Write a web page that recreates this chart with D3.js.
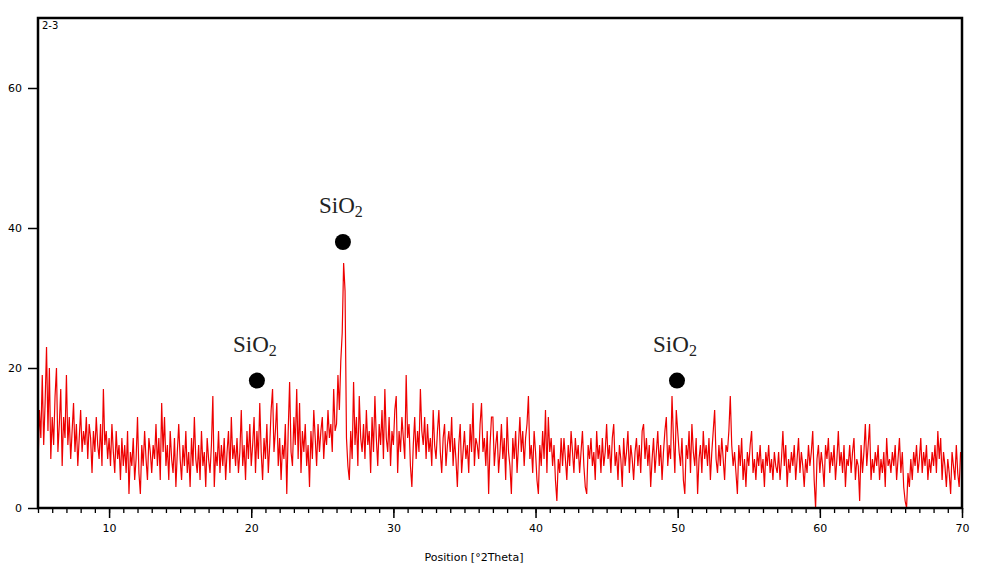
<!DOCTYPE html>
<html>
<head>
<meta charset="utf-8">
<script src="https://cdn.jsdelivr.net/npm/d3@7"></script>
<style>
  body { margin: 0; background: #fff; }
  svg { display: block; }
  .tick text { font-family: "DejaVu Sans", Verdana, sans-serif; font-size: 11px; fill: #000; }
</style>
</head>
<body>
<svg id="chart" width="985" height="569"></svg>
<script>
// scan settings, degrees 2Theta
const scanStart = 5;
const scanStep = 0.1;

// counts, 10 values per degree (5.0 ... 69.9) plus 70.0
const counts = [
  6, 14, 10, 19, 9, 15, 23, 11, 20, 7,
  13, 9, 16, 20, 8, 12, 17, 6, 13, 10,
  19, 9, 13, 7, 11, 15, 8, 12, 6, 10,
  14, 8, 11, 9, 13, 7, 12, 10, 5, 11,
  8, 13, 9, 7, 12, 6, 17, 9, 11, 7,
  10, 6, 12, 8, 5, 11, 7, 9, 4, 10,
  6, 9, 5, 11, 2, 8, 6, 10, 4, 7,
  13, 5, 2, 9, 6, 11, 7, 4, 10, 8,
  5, 9, 7, 12, 6, 10, 4, 15, 8, 13,
  6, 9, 4, 11, 7, 5, 10, 3, 8, 12,
  7, 4, 9, 6, 11, 5, 8, 3, 10, 6,
  13, 7, 5, 9, 4, 11, 6, 8, 3, 10,
  7, 5, 9, 16, 3, 8, 6, 11, 5, 9,
  6, 10, 4, 8, 11, 5, 13, 7, 9, 6,
  10, 5, 8, 14, 6, 9, 4, 11, 7, 12,
  6, 9, 13, 5, 11, 7, 15, 8, 4, 10,
  7, 12, 5, 9, 14, 17, 8, 11, 15, 6,
  10, 4, 9, 7, 12, 2, 11, 18, 8, 6,
  13, 9, 17, 7, 15, 5, 11, 8, 12, 6,
  9, 3, 11, 7, 14, 10, 6, 12, 8, 11,
  13, 7, 11, 9, 14, 10, 12, 8, 17, 11,
  12, 19, 14, 21, 25, 35, 31, 10, 6, 4,
  11, 7, 18, 9, 13, 6, 16, 10, 8, 12,
  7, 14, 9, 11, 5, 13, 8, 16, 10, 6,
  12, 9, 14, 7, 17, 10, 8, 13, 6, 11,
  9, 14, 16, 5, 11, 8, 13, 10, 7, 19,
  10, 12, 6, 3, 9, 13, 7, 11, 8, 17,
  11, 9, 13, 7, 12, 8, 10, 6, 14, 9,
  7, 11, 14, 8, 5, 10, 12, 6, 9, 11,
  8, 13, 6, 10, 7, 3, 9, 12, 5, 8,
  11, 7, 9, 5, 12, 8, 15, 6, 10, 9,
  7, 12, 15, 8, 10, 6, 11, 2, 9, 13,
  13, 6, 9, 11, 5, 8, 12, 7, 10, 4,
  13, 8, 6, 2, 10, 7, 11, 5, 9, 13,
  8, 11, 6, 10, 12, 16, 7, 9, 5, 11,
  8, 4, 2, 9, 6, 11, 7, 14, 5, 13,
  8, 10, 6, 9, 4, 1, 7, 5, 10, 6,
  10, 7, 4, 9, 6, 11, 8, 5, 10, 7,
  9, 5, 8, 11, 6, 3, 2, 9, 7, 10,
  6, 8, 4, 11, 7, 9, 5, 10, 6, 8,
  12, 7, 9, 5, 10, 12, 6, 8, 4, 9,
  7, 3, 10, 6, 8, 11, 5, 9, 7, 4,
  8, 10, 6, 9, 5, 11, 12, 7, 10, 6,
  9, 3, 7, 10, 5, 8, 11, 6, 9, 4,
  8, 11, 13, 6, 9, 7, 16, 10, 5, 14,
  11, 8, 6, 10, 4, 2, 9, 7, 11, 5,
  12, 8, 6, 10, 2, 7, 9, 5, 11, 7,
  9, 6, 10, 4, 8, 11, 14, 7, 5, 9,
  6, 10, 7, 4, 9, 8, 11, 16, 9, 6,
  8, 5, 2, 9, 6, 10, 4, 7, 3, 8,
  6, 9, 11, 5, 7, 4, 8, 6, 9, 5,
  7, 3, 8, 6, 9, 5, 7, 4, 8, 6,
  5, 8, 4, 7, 11, 6, 9, 3, 7, 5,
  8, 6, 9, 4, 7, 10, 5, 8, 6, 3,
  7, 5, 9, 6, 8, 11, 4, 0, 7, 9,
  5, 8, 6, 3, 9, 7, 10, 5, 8, 6,
  9, 4, 7, 11, 6, 8, 5, 9, 3, 7,
  6, 9, 5, 8, 10, 4, 7, 6, 1, 9,
  5, 8, 12, 6, 9, 12, 4, 7, 5, 8,
  6, 9, 4, 7, 5, 8, 3, 10, 6, 7,
  5, 8, 6, 9, 4, 7, 10, 5, 8, 3,
  1, 0, 5, 3, 7, 4, 8, 6, 9, 5,
  7, 10, 5, 8, 6, 9, 4, 7, 5, 8,
  6, 9, 5, 11, 7, 10, 4, 8, 6, 3,
  7, 5, 2, 8, 6, 4, 9, 5, 3, 8,
  7
];

// phase markers
const peakLabels = ["SiO", "SiO", "SiO"];
const peakPositions = [20.4, 26.45, 49.95];
const peakHeights = [18.2, 38.0, 18.2];

const xTicksMajor = [10, 20, 30, 40, 50, 60, 70];
const yTicks = [0, 20, 40, 60];

const svg = d3.select("#chart");
const margin = { top: 18, right: 23, bottom: 61, left: 38 };
const width = 985, height = 569;

const x = d3.scaleLinear().domain([5, 70]).range([margin.left, width - margin.right]);
const y = d3.scaleLinear().domain([0, 70]).range([height - margin.bottom, margin.top]);

const points = counts.map((c, i) => [scanStart + i * scanStep, c]);

// pattern trace
svg.append("path")
    .datum(points)
    .attr("fill", "none")
    .attr("stroke", "#ee0000")
    .attr("stroke-width", 1.2)
    .attr("d", d3.line().x(d => x(d[0])).y(d => y(d[1])));

// minor x ticks
svg.append("g")
    .attr("transform", `translate(0,${y(0)})`)
    .call(d3.axisBottom(x).tickValues(d3.range(5, 71)).tickSize(5).tickFormat(() => ""))
    .call(g => g.select(".domain").remove())
    .selectAll("line").attr("stroke", "#000").attr("stroke-width", 1.3);

// major x ticks
svg.append("g")
    .attr("transform", `translate(0,${y(0)})`)
    .call(d3.axisBottom(x).tickValues(xTicksMajor).tickSize(10).tickPadding(6))
    .call(g => g.select(".domain").remove())
    .call(g => g.selectAll("line").attr("stroke", "#000").attr("stroke-width", 1.5));

// y ticks
svg.append("g")
    .attr("transform", `translate(${x(5)},0)`)
    .call(d3.axisLeft(y).tickValues(yTicks).tickSize(10).tickPadding(6))
    .call(g => g.select(".domain").remove())
    .call(g => g.selectAll("line").attr("stroke", "#000").attr("stroke-width", 1.5));

// frame
svg.append("rect")
    .attr("x", x(5))
    .attr("y", y(70))
    .attr("width", x(70) - x(5))
    .attr("height", y(0) - y(70))
    .attr("fill", "none")
    .attr("stroke", "#000")
    .attr("stroke-width", 2.5);

// sample name
svg.append("text")
    .attr("x", x(5) + 4)
    .attr("y", y(70) + 11)
    .style("font-family", "'DejaVu Sans', Verdana, sans-serif")
    .style("font-size", "10px")
    .text("2-3");

// axis title
svg.append("text")
    .attr("x", 474)
    .attr("y", 561)
    .attr("text-anchor", "middle")
    .style("font-family", "'DejaVu Sans', Verdana, sans-serif")
    .style("font-size", "11px")
    .text("Position [°2Theta]");

// markers + labels
const marks = svg.append("g")
    .selectAll("g")
    .data(peakPositions.map((p, i) => ({ pos: p, h: peakHeights[i], label: peakLabels[i] })))
    .join("g");

marks.append("circle")
    .attr("cx", d => x(d.pos))
    .attr("cy", d => y(d.h))
    .attr("r", 8)
    .attr("fill", "#000");

const lbl = marks.append("text")
    .attr("x", d => x(d.pos) - 2)
    .attr("y", d => y(d.h) - 29)
    .attr("text-anchor", "middle")
    .style("font-family", "'Liberation Serif', 'Times New Roman', serif")
    .style("font-size", "23px")
    .style("fill", "#222");
lbl.append("tspan").text(d => d.label);
lbl.append("tspan").attr("dy", 4).style("font-size", "16px").text("2");
</script>
</body>
</html>
